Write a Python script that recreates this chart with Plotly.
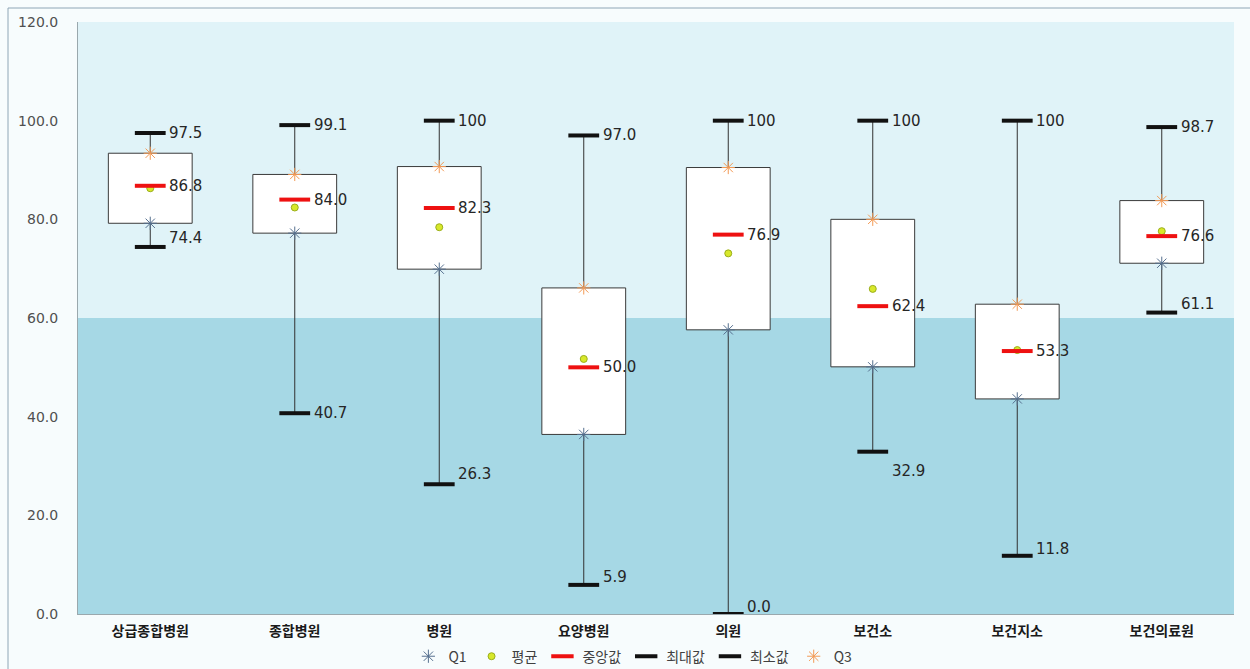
import plotly.graph_objects as go

# Five-number summary plus mean per institution type
categories = ["상급종합병원", "종합병원", "병원", "요양병원", "의원", "보건소", "보건지소", "보건의료원"]
maximum = [97.5, 99.1, 100.0, 97.0, 100.0, 100.0, 100.0, 98.7]
q3 = [93.4, 89.1, 90.7, 66.1, 90.5, 80.0, 62.8, 83.8]
median = [86.8, 84.0, 82.3, 50.0, 76.9, 62.4, 53.3, 76.6]
mean = [86.3, 82.4, 78.4, 51.7, 73.1, 65.9, 53.5, 77.6]
q1 = [79.2, 77.2, 69.9, 36.4, 57.6, 50.1, 43.6, 71.1]
minimum = [74.4, 40.7, 26.3, 5.9, 0.0, 32.9, 11.8, 61.1]
y_ticks = [0, 20, 40, 60, 80, 100, 120]
band_split = 60

# vertical nudges (px) for the minimum labels
min_label_dy = [9, 0, 10, 8, 7, -19, 7, 9]

FONT = "DejaVu Sans, Noto Sans CJK KR, sans-serif"
KFONT = "Noto Sans CJK KR, sans-serif"


def fmt(v):
    return "100" if v == 100 else f"{v:.1f}"


fig = go.Figure()

# boxes from Q1 to Q3
fig.add_trace(go.Bar(
    x=categories, base=q1, y=[b - a for a, b in zip(q1, q3)],
    width=0.58, marker=dict(color="white", line=dict(color="#3a3a3a", width=1)),
    showlegend=False, hoverinfo="skip",
))

# whiskers: Q3 -> max and Q1 -> min
wx, wy = [], []
for c, lo, a, b, hi in zip(categories, minimum, q1, q3, maximum):
    wx += [c, c, c, c, c, c]
    wy += [b, hi, None, a, lo, None]
fig.add_trace(go.Scatter(
    x=wx, y=wy, mode="lines", line=dict(color="#303030", width=1),
    showlegend=False, hoverinfo="skip", connectgaps=False,
))

cap = dict(symbol="line-ew", size=22)
fig.add_trace(go.Scatter(
    x=categories, y=q1, mode="markers", name="Q1", legendrank=1,
    marker=dict(symbol="asterisk-open", size=11, color="#56708f",
                line=dict(color="#56708f", width=1)),
))
fig.add_trace(go.Scatter(
    x=categories, y=mean, mode="markers", name="평균", legendrank=2,
    marker=dict(symbol="circle", size=7, color="#d8e82a", line=dict(color="#9aae1c", width=1)),
))
fig.add_trace(go.Scatter(
    x=categories, y=median, mode="markers", name="중앙값", legendrank=3,
    marker=dict(**cap, color="#ee1111", line=dict(color="#ee1111", width=4)),
))
fig.add_trace(go.Scatter(
    x=categories, y=maximum, mode="markers", name="최대값", legendrank=4,
    marker=dict(**cap, color="#111111", line=dict(color="#111111", width=4)),
))
fig.add_trace(go.Scatter(
    x=categories, y=minimum, mode="markers", name="최소값", legendrank=5,
    marker=dict(**cap, color="#111111", line=dict(color="#111111", width=4)),
))
fig.add_trace(go.Scatter(
    x=categories, y=q3, mode="markers", name="Q3", legendrank=6,
    marker=dict(symbol="asterisk-open", size=11, color="#f39a55",
                line=dict(color="#f39a55", width=1)),
))

# value labels next to max, median and min
ann = []
for i, c in enumerate(categories):
    for v, dy in ((maximum[i], 0), (median[i], 0), (minimum[i], min_label_dy[i])):
        ann.append(dict(
            x=c, y=v, text=fmt(v), showarrow=False, xanchor="left", yanchor="middle",
            xshift=17, yshift=dy, font=dict(family=FONT, size=15, color="#262626"),
        ))

shapes = [
    # background bands
    dict(type="rect", xref="paper", yref="y", x0=0, x1=1, y0=band_split, y1=120,
         fillcolor="#e0f3f8", line=dict(width=0), layer="below"),
    dict(type="rect", xref="paper", yref="y", x0=0, x1=1, y0=0, y1=band_split,
         fillcolor="#a6d8e5", line=dict(width=0), layer="below"),
    # outer chart frame (left and top edges)
    dict(type="line", xref="paper", yref="paper",
         x0=-70 / 1156, x1=-70 / 1156, y0=-0.2, y1=1 + 14 / 592,
         line=dict(color="#8ea6b6", width=1), layer="below"),
    dict(type="line", xref="paper", yref="paper",
         x0=-70 / 1156, x1=1.2, y0=1 + 14 / 592, y1=1 + 14 / 592,
         line=dict(color="#8ea6b6", width=1), layer="below"),
]

fig.update_layout(
    width=1250, height=669,
    margin=dict(l=78, r=16, t=22, b=55, autoexpand=False),
    paper_bgcolor="#f7fcfd",
    plot_bgcolor="#e0f3f8",
    barmode="overlay",
    font=dict(family=FONT, size=14, color="#404040"),
    shapes=shapes,
    annotations=ann,
    legend=dict(
        orientation="h", x=0.48, xanchor="center", y=-0.072, yanchor="middle",
        font=dict(family=KFONT, size=14, color="#404040"),
        bgcolor="rgba(0,0,0,0)", itemwidth=30, tracegroupgap=0,
    ),
    hovermode=False,
)
fig.update_xaxes(
    type="category", showgrid=False, showline=True, linecolor="#9aa8ad", linewidth=1,
    ticks="", tickfont=dict(family=KFONT, size=14, color="#1a1a1a", weight="bold"),
    ticklabelstandoff=4,
)
fig.update_yaxes(
    range=[0, 120], tickvals=y_ticks, tickformat=".1f", showgrid=False,
    showline=True, linecolor="#9aa8ad", linewidth=1, ticks="", zeroline=False,
    tickfont=dict(family=FONT, size=14, color="#505050"), ticklabelstandoff=16,
)

fig.write_html("out.html")
